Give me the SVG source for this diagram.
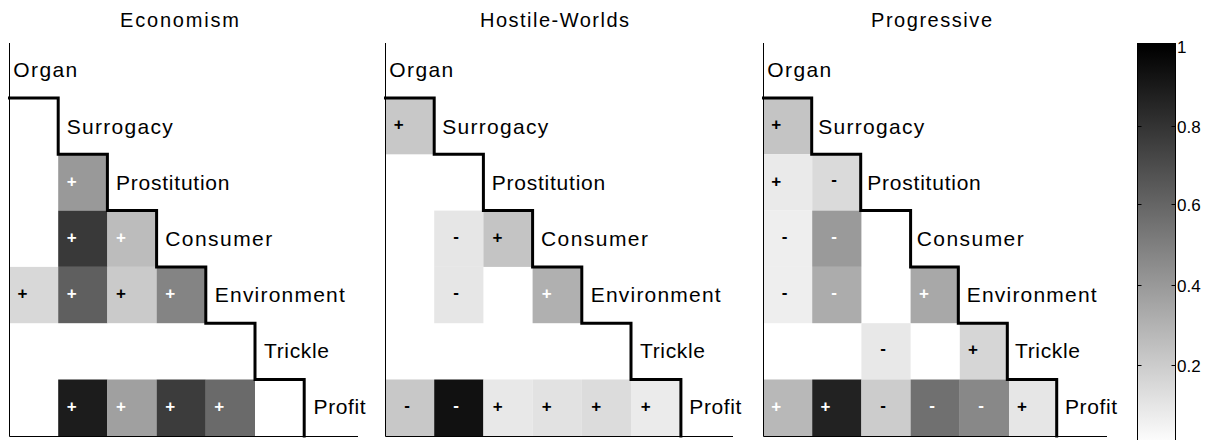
<svg xmlns="http://www.w3.org/2000/svg" width="1212" height="440" viewBox="0 0 1212 440">
<style>
text{font-family:"Liberation Sans",Arial,Helvetica,sans-serif;fill:#000}
.ttl{font-size:20px}
.lbl{font-size:21px}
.mk{font-size:17px;font-weight:bold;text-anchor:middle}
.w{fill:#fff}
.ax{stroke:#000;stroke-width:1;fill:none}
.st{stroke:#000;stroke-width:3;fill:none;stroke-linejoin:miter;stroke-linecap:square}
.tk{font-size:17px}
</style>
<defs>
<linearGradient id="cb" gradientUnits="userSpaceOnUse" x1="0" y1="46" x2="0" y2="445">
<stop offset="0" stop-color="#000"/>
<stop offset="1" stop-color="#fff"/>
</linearGradient>
</defs>

<g id="titles">
<text class="ttl" x="120" y="27" textLength="119" lengthAdjust="spacing">Economism</text>
<text class="ttl" x="480" y="27" textLength="149" lengthAdjust="spacing">Hostile-Worlds</text>
<text class="ttl" x="871" y="27" textLength="121" lengthAdjust="spacing">Progressive</text>
</g>

<!-- Panel 1: Economism -->
<g id="panel-economism" transform="translate(9,0)">
<g id="cells-economism">
<rect x="49.2" y="154.3" width="49.2" height="56.3" fill="#999999"/>
<rect x="49.2" y="210.6" width="49.2" height="56.3" fill="#393939"/>
<rect x="98.4" y="210.6" width="49.2" height="56.3" fill="#bcbcbc"/>
<rect x="0.5" y="266.9" width="48.7" height="56.3" fill="#d8d8d8"/>
<rect x="49.2" y="266.9" width="49.2" height="56.3" fill="#5f5f5f"/>
<rect x="98.4" y="266.9" width="49.2" height="56.3" fill="#cacaca"/>
<rect x="147.6" y="266.9" width="49.2" height="56.3" fill="#848484"/>
<rect x="49.2" y="379.5" width="49.2" height="56.5" fill="#1c1c1c"/>
<rect x="98.4" y="379.5" width="49.2" height="56.5" fill="#a0a0a0"/>
<rect x="147.6" y="379.5" width="49.2" height="56.5" fill="#3c3c3c"/>
<rect x="196.8" y="379.5" width="49.2" height="56.5" fill="#6a6a6a"/>
</g>
<g id="marks-economism">
<text class="mk w" x="62.7" y="186.6">+</text>
<text class="mk w" x="62.7" y="242.8">+</text>
<text class="mk w" x="111.9" y="242.8">+</text>
<text class="mk" x="13.5" y="299.1">+</text>
<text class="mk w" x="62.7" y="299.1">+</text>
<text class="mk" x="111.9" y="299.1">+</text>
<text class="mk w" x="161.1" y="299.1">+</text>
<text class="mk w" x="62.7" y="411.8">+</text>
<text class="mk w" x="111.9" y="411.8">+</text>
<text class="mk w" x="161.1" y="411.8">+</text>
<text class="mk w" x="210.3" y="411.8">+</text>
</g>
<g id="axes-economism">
<path class="ax" d="M0.5,43 V436.5 H349"/>
<path class="st" d="M0.5,98 H49.2 V154.3 H98.4 V210.6 H147.6 V266.9 H196.8 V323.2 H246 V379.5 H295.2 V436"/>
</g>
<g id="labels-economism">
<text class="lbl" x="4.3" y="77" textLength="64" lengthAdjust="spacing">Organ</text>
<text class="lbl" x="57.8" y="134" textLength="106" lengthAdjust="spacing">Surrogacy</text>
<text class="lbl" x="107" y="189.5" textLength="113.5" lengthAdjust="spacing">Prostitution</text>
<text class="lbl" x="156.2" y="246" textLength="107" lengthAdjust="spacing">Consumer</text>
<text class="lbl" x="205.8" y="302" textLength="130" lengthAdjust="spacing">Environment</text>
<text class="lbl" x="255" y="357.5" textLength="65" lengthAdjust="spacing">Trickle</text>
<text class="lbl" x="304.6" y="414" textLength="52" lengthAdjust="spacing">Profit</text>
</g>
</g>

<!-- Panel 2: Hostile-Worlds -->
<g id="panel-hostile-worlds" transform="translate(385,0)">
<g id="cells-hostile-worlds">
<rect x="0.5" y="98" width="48.7" height="56.3" fill="#c8c8c8"/>
<rect x="49.2" y="210.6" width="49.2" height="56.3" fill="#e6e6e6"/>
<rect x="98.4" y="210.6" width="49.2" height="56.3" fill="#c4c4c4"/>
<rect x="49.2" y="266.9" width="49.2" height="56.3" fill="#e6e6e6"/>
<rect x="147.6" y="266.9" width="49.2" height="56.3" fill="#b0b0b0"/>
<rect x="0.5" y="379.5" width="48.7" height="56.5" fill="#c8c8c8"/>
<rect x="49.2" y="379.5" width="49.2" height="56.5" fill="#111111"/>
<rect x="98.4" y="379.5" width="49.2" height="56.5" fill="#e8e8e8"/>
<rect x="147.6" y="379.5" width="49.2" height="56.5" fill="#e2e2e2"/>
<rect x="196.8" y="379.5" width="49.2" height="56.5" fill="#dcdcdc"/>
<rect x="246" y="379.5" width="49.2" height="56.5" fill="#ebebeb"/>
</g>
<g id="marks-hostile-worlds">
<text class="mk" x="13.8" y="130.3">+</text>
<text class="mk" x="71.2" y="241.6">-</text>
<text class="mk" x="112.5" y="242.8">+</text>
<text class="mk" x="71.2" y="297.9">-</text>
<text class="mk w" x="161.6" y="299.1">+</text>
<text class="mk" x="22" y="410.6">-</text>
<text class="mk w" x="71.2" y="410.6">-</text>
<text class="mk" x="112.7" y="411.8">+</text>
<text class="mk" x="161.8" y="411.8">+</text>
<text class="mk" x="211.2" y="411.8">+</text>
<text class="mk" x="260.8" y="411.8">+</text>
</g>
<g id="axes-hostile-worlds">
<path class="ax" d="M0.5,43 V436.5 H348"/>
<path class="st" d="M0.5,98 H49.2 V154.3 H98.4 V210.6 H147.6 V266.9 H196.8 V323.2 H246 V379.5 H295.9 V436"/>
</g>
<g id="labels-hostile-worlds">
<text class="lbl" x="4.3" y="77" textLength="64" lengthAdjust="spacing">Organ</text>
<text class="lbl" x="57.3" y="134" textLength="106" lengthAdjust="spacing">Surrogacy</text>
<text class="lbl" x="106.7" y="189.5" textLength="113.5" lengthAdjust="spacing">Prostitution</text>
<text class="lbl" x="156" y="246" textLength="107" lengthAdjust="spacing">Consumer</text>
<text class="lbl" x="205.7" y="302" textLength="130" lengthAdjust="spacing">Environment</text>
<text class="lbl" x="255" y="357.5" textLength="65" lengthAdjust="spacing">Trickle</text>
<text class="lbl" x="304.3" y="414" textLength="52" lengthAdjust="spacing">Profit</text>
</g>
</g>

<!-- Panel 3: Progressive -->
<g id="panel-progressive" transform="translate(763,0)">
<g id="cells-progressive">
<rect x="0.5" y="98" width="48.7" height="56.3" fill="#c4c4c4"/>
<rect x="0.5" y="154.3" width="48.7" height="56.3" fill="#eaeaea"/>
<rect x="49.2" y="154.3" width="49.2" height="56.3" fill="#dadada"/>
<rect x="0.5" y="210.6" width="48.7" height="56.3" fill="#eeeeee"/>
<rect x="49.2" y="210.6" width="49.2" height="56.3" fill="#9a9a9a"/>
<rect x="0.5" y="266.9" width="48.7" height="56.3" fill="#eeeeee"/>
<rect x="49.2" y="266.9" width="49.2" height="56.3" fill="#acacac"/>
<rect x="147.6" y="266.9" width="49.2" height="56.3" fill="#a8a8a8"/>
<rect x="98.4" y="323.2" width="49.2" height="56.3" fill="#e8e8e8"/>
<rect x="196.8" y="323.2" width="49.2" height="56.3" fill="#d6d6d6"/>
<rect x="0.5" y="379.5" width="48.7" height="56.5" fill="#b8b8b8"/>
<rect x="49.2" y="379.5" width="49.2" height="56.5" fill="#222222"/>
<rect x="98.4" y="379.5" width="49.2" height="56.5" fill="#cccccc"/>
<rect x="147.6" y="379.5" width="49.2" height="56.5" fill="#707070"/>
<rect x="196.8" y="379.5" width="49.2" height="56.5" fill="#888888"/>
<rect x="246" y="379.5" width="49.2" height="56.5" fill="#e6e6e6"/>
</g>
<g id="marks-progressive">
<text class="mk" x="13.3" y="130.3">+</text>
<text class="mk" x="13.3" y="186.6">+</text>
<text class="mk" x="71" y="185.4">-</text>
<text class="mk" x="21.5" y="241.6">-</text>
<text class="mk w" x="71" y="241.6">-</text>
<text class="mk" x="21.5" y="297.9">-</text>
<text class="mk w" x="71" y="297.9">-</text>
<text class="mk w" x="161" y="299.1">+</text>
<text class="mk" x="120" y="354.2">-</text>
<text class="mk" x="210" y="355.4">+</text>
<text class="mk w" x="13.3" y="411.8">+</text>
<text class="mk w" x="62.5" y="411.8">+</text>
<text class="mk" x="120" y="410.6">-</text>
<text class="mk w" x="169" y="410.6">-</text>
<text class="mk w" x="218.2" y="410.6">-</text>
<text class="mk" x="259" y="411.8">+</text>
</g>
<g id="axes-progressive">
<path class="ax" d="M0.5,43 V436.5 H344"/>
<path class="st" d="M0.5,98 H48.7 V154.3 H97.7 V210.6 H147.6 V266.9 H195.3 V323.2 H244.3 V379.5 H293.7 V436"/>
</g>
<g id="labels-progressive">
<text class="lbl" x="4.3" y="77" textLength="64" lengthAdjust="spacing">Organ</text>
<text class="lbl" x="55.3" y="134" textLength="106" lengthAdjust="spacing">Surrogacy</text>
<text class="lbl" x="104.3" y="189.5" textLength="113.5" lengthAdjust="spacing">Prostitution</text>
<text class="lbl" x="153.7" y="246" textLength="107" lengthAdjust="spacing">Consumer</text>
<text class="lbl" x="203.7" y="302" textLength="130" lengthAdjust="spacing">Environment</text>
<text class="lbl" x="252" y="357.5" textLength="65" lengthAdjust="spacing">Trickle</text>
<text class="lbl" x="302" y="414" textLength="52" lengthAdjust="spacing">Profit</text>
</g>
</g>

<!-- Colorbar -->
<g id="colorbar">
<rect x="1137.5" y="43.5" width="38" height="402" fill="url(#cb)" stroke="#000" stroke-width="1"/>
<path class="ax" d="M1137.5,126.5 h4 M1175.5,126.5 h-4 M1137.5,204.5 h4 M1175.5,204.5 h-4 M1137.5,285.5 h4 M1175.5,285.5 h-4 M1137.5,365.5 h4 M1175.5,365.5 h-4"/>
<text class="tk" x="1177" y="52.5">1</text>
<text class="tk" x="1177" y="132.7">0.8</text>
<text class="tk" x="1177" y="210.7">0.6</text>
<text class="tk" x="1177" y="291.5">0.4</text>
<text class="tk" x="1177" y="371.5">0.2</text>
</g>
</svg>
